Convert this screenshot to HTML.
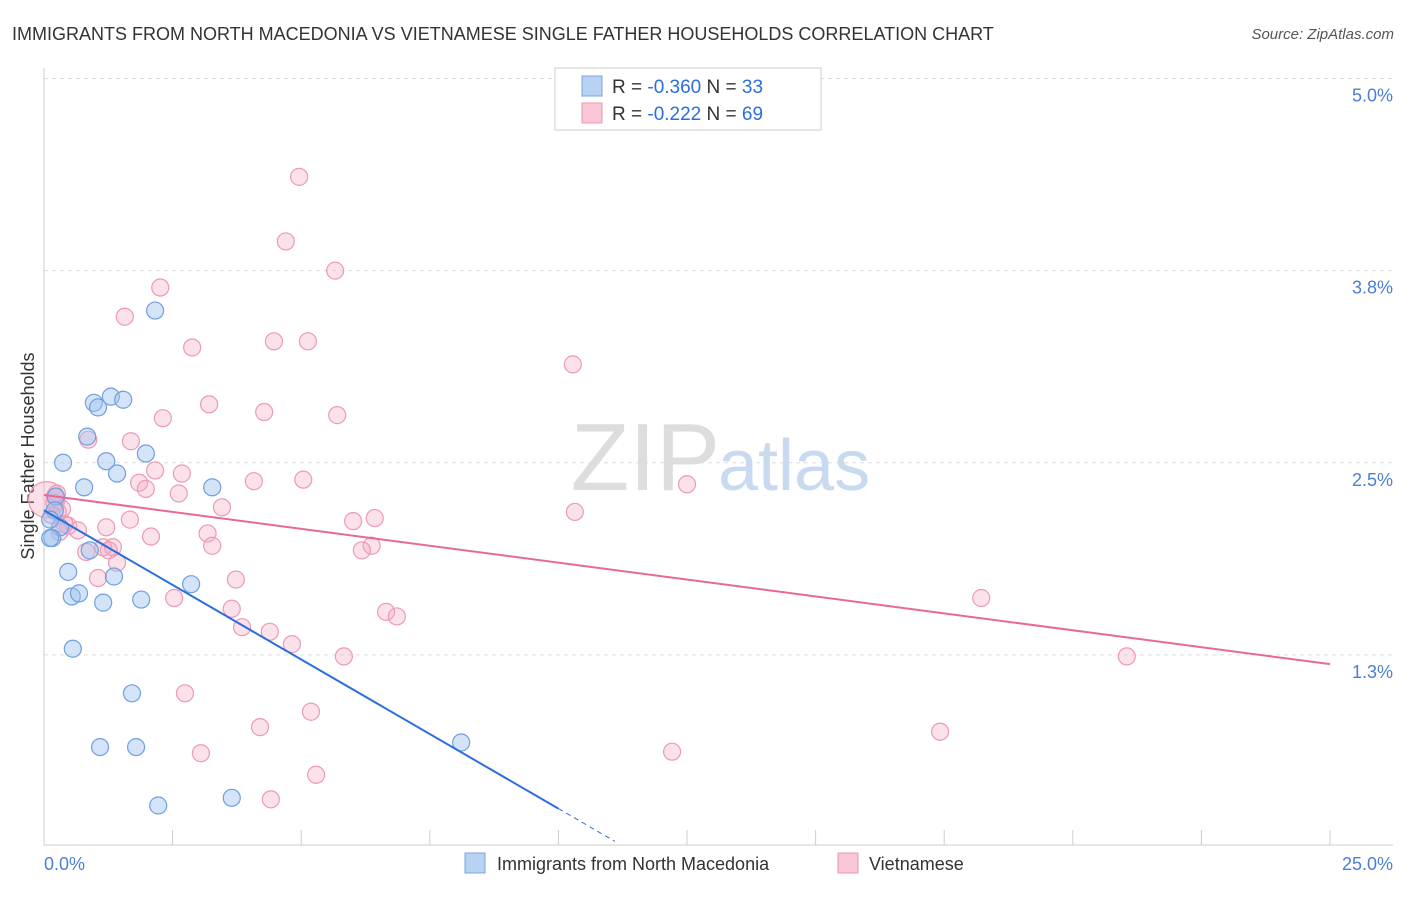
<!DOCTYPE html>
<html><head><meta charset="utf-8"><style>
body{margin:0;background:#fff;font-family:"Liberation Sans",sans-serif}
svg text{font-family:"Liberation Sans",sans-serif}
</style></head><body>
<svg id="chart" width="1406" height="892">
<text x="12" y="40" font-size="18" fill="#333">IMMIGRANTS FROM NORTH MACEDONIA VS VIETNAMESE SINGLE FATHER HOUSEHOLDS CORRELATION CHART</text>
<text x="1394" y="39" font-size="15" fill="#555" font-style="italic" text-anchor="end">Source: ZipAtlas.com</text>
<g id="grid"></g>
<text x="720" y="490" font-size="96" fill="#ddd" text-anchor="end" font-family="Liberation Serif">ZIP</text>
<text x="718" y="490" font-size="72" fill="#c8daf0">atlas</text>
<line x1="44" y1="68" x2="44" y2="845" stroke="#ccc"/>
<line x1="44" y1="845" x2="1393" y2="845" stroke="#ccc"/>
<g id="ticks"></g>
<text transform="translate(34,456) rotate(-90)" font-size="18" fill="#333" text-anchor="middle">Single Father Households</text>
<text x="44" y="870" font-size="18" fill="#4a7fd6">0.0%</text>
<text x="1393" y="870" font-size="18" fill="#4a7fd6" text-anchor="end">25.0%</text>
<g id="pts"></g>
<g id="lines"></g>
<g>
<rect x="555" y="68" width="266" height="62" fill="#fff" stroke="#ccc"/>
<rect x="582" y="76" width="20" height="20" fill="#b8d2f4" stroke="#7aa6e2"/>
<rect x="582" y="103" width="20" height="20" fill="#f9c6d6" stroke="#ec9ab6"/>
<text x="612" y="93" font-size="19" fill="#333">R = <tspan fill="#2a6fdb">-0.360</tspan>   N = <tspan fill="#2a6fdb">33</tspan></text>
<text x="612" y="120" font-size="19" fill="#333">R =  <tspan fill="#2a6fdb">-0.222</tspan>   N = <tspan fill="#2a6fdb">69</tspan></text>
</g>
<g>
<rect x="465" y="853" width="20" height="20" fill="#b8d2f4" stroke="#7aa6e2"/>
<text x="497" y="870" font-size="18" fill="#333">Immigrants from North Macedonia</text>
<rect x="838" y="853" width="20" height="20" fill="#f9c6d6" stroke="#ec9ab6"/>
<text x="869" y="870" font-size="18" fill="#333">Vietnamese</text>
</g>
</svg>
<script>
const yTicks=[5.0,3.75,2.5,1.25];
const yTickLabels=["5.0%","3.8%","2.5%","1.3%"];
const xTicks=[0,2.5,5,7.5,10,12.5,15,17.5,20,22.5,25];
const blueX=[2.16,1.30,0.97,1.54,1.05,0.84,0.37,1.21,1.98,1.42,0.78,3.27,0.23,0.21,0.31,0.16,0.89,0.47,1.36,2.86,0.54,0.68,1.15,1.89,0.56,1.71,1.09,1.79,8.11,2.22,3.65,0.12,0.12];
const blueY=[3.49,2.93,2.89,2.91,2.86,2.67,2.50,2.51,2.56,2.43,2.34,2.34,2.28,2.19,2.08,2.01,1.93,1.79,1.76,1.71,1.63,1.65,1.59,1.61,1.29,1.00,0.65,0.65,0.68,0.27,0.32,2.13,2.01];
const pinkX=[4.96,4.70,5.66,2.26,1.57,2.88,4.47,5.13,10.28,3.21,4.28,2.31,5.70,0.86,1.69,2.16,2.68,4.08,5.04,1.85,1.98,2.62,12.50,3.46,10.32,1.67,6.01,6.43,0.47,0.66,1.21,2.08,3.18,0.82,1.15,1.34,1.26,3.27,6.37,6.18,1.42,1.05,3.73,2.53,18.22,3.65,6.65,6.86,3.85,4.39,4.82,5.83,21.05,2.74,5.19,4.20,17.42,3.05,12.21,5.29,4.41,0.21,0.27,0.20,0.35,0.40,0.25,0.15,0.30];
const pinkY=[4.36,3.94,3.75,3.64,3.45,3.25,3.29,3.29,3.14,2.88,2.83,2.79,2.81,2.65,2.64,2.45,2.43,2.38,2.39,2.37,2.33,2.30,2.36,2.21,2.18,2.13,2.12,2.14,2.09,2.06,2.08,2.02,2.04,1.92,1.95,1.95,1.93,1.96,1.96,1.93,1.85,1.75,1.74,1.62,1.62,1.55,1.53,1.50,1.43,1.40,1.32,1.24,1.24,1.00,0.88,0.78,0.75,0.61,0.62,0.47,0.31,2.28,2.18,2.24,2.20,2.10,2.30,2.16,2.05];
const blueTrend=[2.19,-0.194];
const pinkTrend=[2.29,-0.044];
const NS="http://www.w3.org/2000/svg";
const X=v=>44+v*51.44, Y=v=>847-v*153.7;
function mk(tag,attrs,parent){const e=document.createElementNS(NS,tag);for(const k in attrs)e.setAttribute(k,attrs[k]);document.getElementById(parent).appendChild(e);return e;}
yTicks.forEach((t,i)=>{
 const g=mk('line',{x1:44,x2:1393,y1:Y(t),y2:Y(t),stroke:'#ddd','stroke-dasharray':'4,4'},'grid');
 
 
 const l=mk('text',{x:1393,y:Y(t)+23,'font-size':18,fill:'#4a7fd6','text-anchor':'end'},'grid');
 l.textContent=yTickLabels[i];
 
 
});
xTicks.forEach(t=>{
 const l=mk('line',{x1:X(t),x2:X(t),y1:830,y2:845,stroke:'#ccc'},'ticks');
 
 
});
const big=mk('circle',{cx:X(0.05),cy:Y(2.26),r:18,fill:'rgba(244,170,195,0.35)',stroke:'#ec9ab6','stroke-width':1.2},'pts');


pinkX.forEach((x,i)=>{
 const c=mk('circle',{cx:X(x),cy:Y(pinkY[i]),r:8.5,fill:'rgba(244,170,195,0.35)',stroke:'#ec9ab6','stroke-width':1.2},'pts');
 
 
});
blueX.forEach((x,i)=>{
 const c=mk('circle',{cx:X(x),cy:Y(blueY[i]),r:8.5,fill:'rgba(160,195,240,0.45)',stroke:'#6f9fe0','stroke-width':1.2},'pts');
 
 
});
const bl=mk('line',{x1:X(0),y1:Y(blueTrend[0]),x2:X(10),y2:Y(blueTrend[0]+blueTrend[1]*10),stroke:'#2a6fdb','stroke-width':2},'lines');


const bd=mk('line',{x1:X(10),y1:Y(blueTrend[0]+blueTrend[1]*10),x2:X(11.1),y2:Y(blueTrend[0]+blueTrend[1]*11.1),stroke:'#2a6fdb','stroke-width':1,'stroke-dasharray':'5,4'},'lines');


const pl=mk('line',{x1:X(0),y1:Y(pinkTrend[0]),x2:X(25),y2:Y(pinkTrend[0]+pinkTrend[1]*25),stroke:'#e8689a','stroke-width':2},'lines');


</script>
</body></html>
